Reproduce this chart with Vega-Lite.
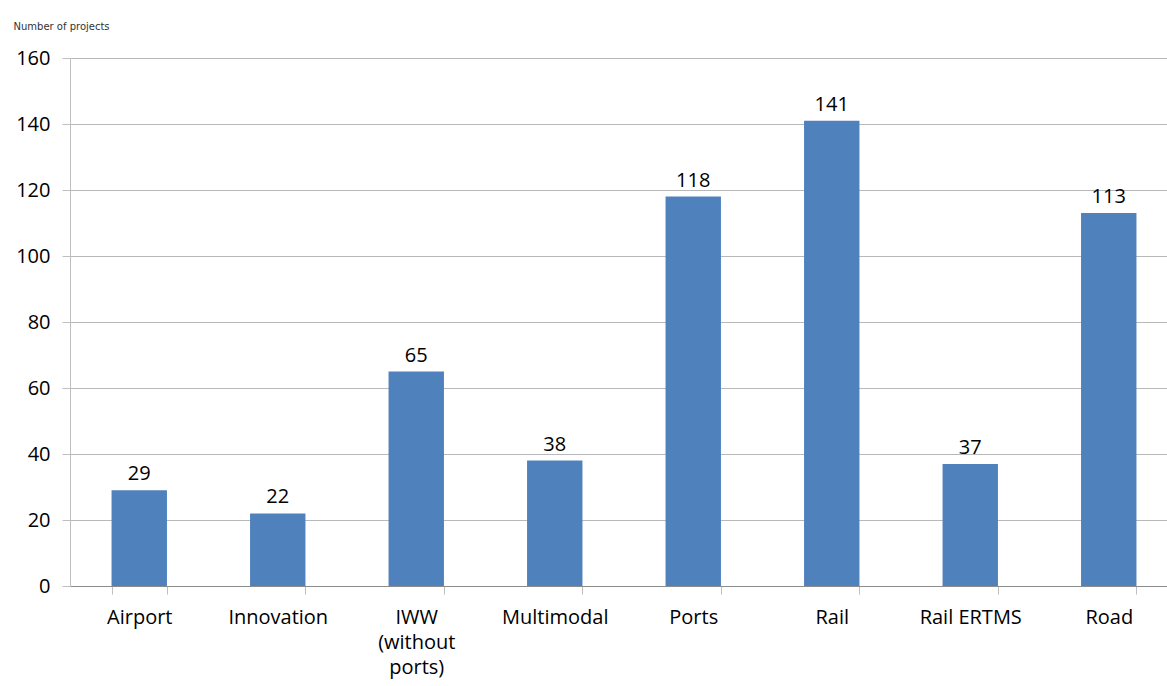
{
  "$schema": "https://vega.github.io/schema/vega-lite/v6.json",
  "width": 1097,
  "height": 528,
  "autosize": {"type": "none"},
  "padding": {"left": 70, "top": 58, "right": 0, "bottom": 100},
  "background": "white",
  "config": {"view": {"stroke": null}, "font": "Open Sans"},
  "data": {"values": [
    {"category": "Airport", "projects": 29},
    {"category": "Innovation", "projects": 22},
    {"category": "IWW (without ports)", "projects": 65},
    {"category": "Multimodal", "projects": 38},
    {"category": "Ports", "projects": 118},
    {"category": "Rail", "projects": 141},
    {"category": "Rail ERTMS", "projects": 37},
    {"category": "Road", "projects": 113}
  ]},
  "encoding": {
    "x": {"field": "category", "type": "nominal", "sort": null,
      "scale": {"paddingInner": 0.6, "paddingOuter": 0.3, "range": [0, 1108]},
      "axis": {"title": null, "labelAngle": 0, "tickBand": "extent", "tickSize": 8, "tickColor": "#BFBFBF", "domainColor": "#8C8C8C", "labelPadding": 13, "labelFontSize": 20, "labelColor": "#000000", "labelBaseline": "top", "labelLineHeight": 25,
        "labelExpr": "datum.label == 'IWW (without ports)' ? ['IWW', '(without', 'ports)'] : datum.label"}},
    "y": {"field": "projects", "type": "quantitative",
      "scale": {"domain": [0, 160]},
      "axis": {"values": [0, 20, 40, 60, 80, 100, 120, 140, 160], "tickSize": 8, "tickColor": "#BFBFBF", "domainColor": "#BFBFBF", "gridColor": "#B8B8B8", "labelPadding": 12, "labelFontSize": 20, "labelColor": "#000000",
        "title": "Number of projects", "titleAngle": 0, "titleAlign": "left", "titleBaseline": "middle", "titleX": -57, "titleY": -32, "titleFont": "DejaVu Sans", "titleFontSize": 10, "titleFontWeight": "normal", "titleColor": "#333333"}}
  },
  "layer": [
    {"mark": {"type": "bar", "color": "#4F81BD"}},
    {"mark": {"type": "text", "baseline": "bottom", "dy": -6, "fontSize": 20, "color": "#000000"},
      "encoding": {"text": {"field": "projects", "type": "quantitative"}}}
  ]
}
